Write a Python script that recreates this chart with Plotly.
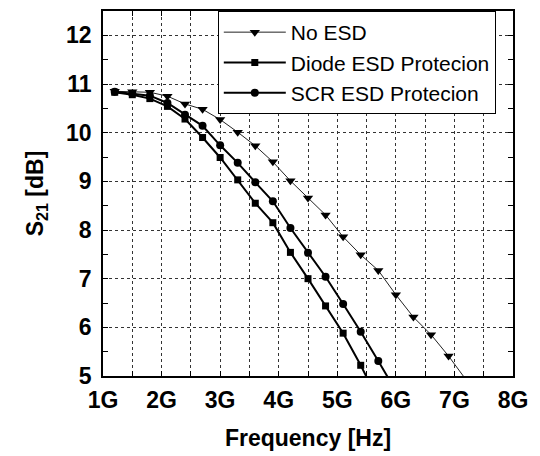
import plotly.graph_objects as go

# Frequency (GHz) sample points
freq_no_esd = [1.2, 1.5, 1.8, 2.1, 2.4, 2.7, 3.0, 3.3, 3.6, 3.9, 4.2, 4.5, 4.8, 5.1, 5.4, 5.7, 6.0, 6.3, 6.6, 6.9, 7.2]
s21_no_esd = [10.85, 10.84, 10.83, 10.75, 10.59, 10.48, 10.27, 10.01, 9.73, 9.40, 9.01, 8.66, 8.31, 7.86, 7.49, 7.17, 6.67, 6.21, 5.85, 5.41, 4.92]

freq_diode = [1.2, 1.5, 1.8, 2.1, 2.4, 2.7, 3.0, 3.3, 3.6, 3.9, 4.2, 4.5, 4.8, 5.1, 5.4, 5.7]
s21_diode = [10.83, 10.78, 10.70, 10.54, 10.28, 9.90, 9.49, 9.03, 8.55, 8.15, 7.54, 7.00, 6.44, 5.88, 5.22, 4.50]

freq_scr = [1.2, 1.5, 1.8, 2.1, 2.4, 2.7, 3.0, 3.3, 3.6, 3.9, 4.2, 4.5, 4.8, 5.1, 5.4, 5.7, 6.0]
s21_scr = [10.84, 10.80, 10.76, 10.61, 10.37, 10.14, 9.74, 9.38, 8.98, 8.59, 8.04, 7.53, 7.04, 6.48, 5.91, 5.31, 4.69]

x_tick_vals = [1, 2, 3, 4, 5, 6, 7, 8]
x_tick_text = ["1G", "2G", "3G", "4G", "5G", "6G", "7G", "8G"]
y_tick_vals = [5, 6, 7, 8, 9, 10, 11, 12]

FONT = "Liberation Sans, Arial, Helvetica, sans-serif"
GRID = "#333333"

fig = go.Figure()
fig.add_trace(go.Scatter(
    x=freq_no_esd, y=s21_no_esd, name="No ESD", mode="lines+markers",
    line=dict(color="#222222", width=1),
    marker=dict(symbol="triangle-down", size=9, color="black"),
))
fig.add_trace(go.Scatter(
    x=freq_diode, y=s21_diode, name="Diode ESD Protecion", mode="lines+markers",
    line=dict(color="black", width=2),
    marker=dict(symbol="square", size=7, color="black"),
))
fig.add_trace(go.Scatter(
    x=freq_scr, y=s21_scr, name="SCR ESD Protecion", mode="lines+markers",
    line=dict(color="black", width=2),
    marker=dict(symbol="circle", size=8, color="black"),
))

axis_common = dict(
    showline=True, linecolor="black", linewidth=1.5, mirror="ticks",
    ticks="inside", ticklen=5, tickwidth=1.2, tickcolor="black",
    showgrid=True, gridcolor=GRID, griddash="dot", gridwidth=1,
    zeroline=False,
    tickfont=dict(family=FONT, size=23, color="black", weight="bold"),
)

fig.update_xaxes(
    **axis_common,
    range=[1, 8], tickvals=x_tick_vals, ticktext=x_tick_text,
    minor=dict(dtick=0.5, ticks="inside", ticklen=5, tickwidth=1.2, tickcolor="black",
               showgrid=True, gridcolor=GRID, griddash="dot", gridwidth=1),
    ticklabelstandoff=3,
    title=dict(text="Frequency [Hz]", font=dict(family=FONT, size=23, color="black", weight="bold"), standoff=18),
)
fig.update_yaxes(
    **axis_common,
    range=[5, 12.5], tickvals=y_tick_vals,
    minor=dict(dtick=0.5, ticks="inside", ticklen=5, tickwidth=1.2, tickcolor="black", showgrid=False),
    ticklabelstandoff=5,
    title=dict(text="S<sub>21</sub> [dB]", font=dict(family=FONT, size=23, color="black", weight="bold"), standoff=16),
)

fig.update_layout(
    width=540, height=456,
    margin=dict(l=103, r=27, t=9, b=79),
    paper_bgcolor="white", plot_bgcolor="white",
    showlegend=True,
    legend=dict(
        x=0.28, y=1, xanchor="left", yanchor="top",
        bgcolor="white", bordercolor="black", borderwidth=1,
        font=dict(family=FONT, size=21, color="black"),
        itemwidth=62, tracegroupgap=0,
    ),
)

fig.write_html("out.html")
